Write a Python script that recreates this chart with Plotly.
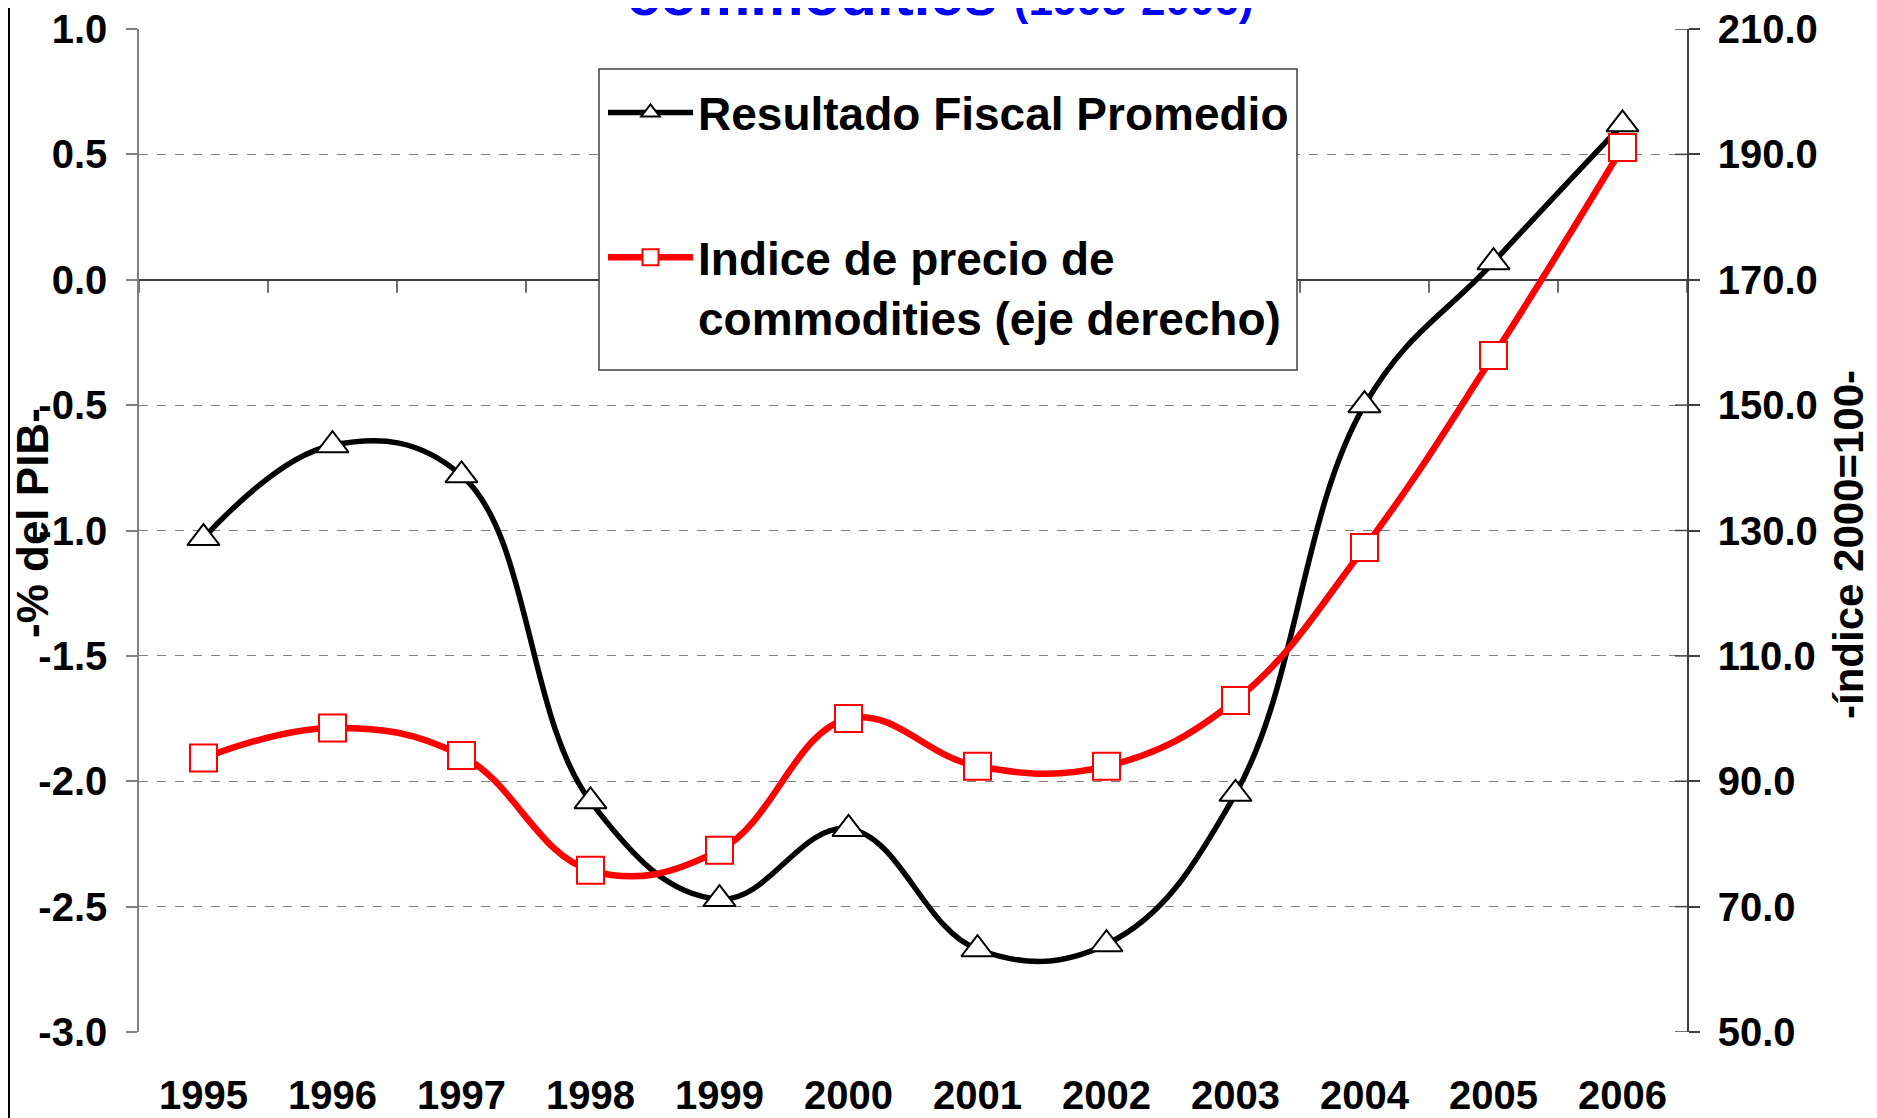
import plotly.graph_objects as go

years = ['1995', '1996', '1997', '1998', '1999', '2000',
         '2001', '2002', '2003', '2004', '2005', '2006']
fiscal = [-1.03, -0.66, -0.78, -2.08, -2.47, -2.19,
          -2.67, -2.65, -2.05, -0.50, 0.07, 0.62]
commod = [93.7, 98.5, 94.1, 75.8, 79.0, 100.0,
          92.4, 92.4, 102.9, 127.3, 157.9, 191.1]

left_ticks = [-3.0, -2.5, -2.0, -1.5, -1.0, -0.5, 0.0, 0.5, 1.0]
right_ticks = [50, 70, 90, 110, 130, 150, 170, 190, 210]

FONT = "Liberation Sans, Arial, sans-serif"

OFF = 8  # default page body margin
W, H = 1877 - OFF, 1118 - OFF
L, R, T, B = 139 - OFF, 1687 - OFF, 29 - OFF, 1032 - OFF
pw, ph = R - L, B - T


def px(xw):
    return (xw - OFF - L) / pw


def py(yw):
    return (B - (yw - OFF)) / ph


fig = go.Figure()
fig.add_trace(go.Scatter(
    x=years, y=fiscal, name="Resultado Fiscal Promedio",
    mode="lines+markers", line=dict(color="black", width=5.5, shape="spline", smoothing=1.15),
    marker=dict(symbol="triangle-up", size=28, color="white", line=dict(color="black", width=2)),
    yaxis="y", legendgroup="a"))
fig.add_trace(go.Scatter(
    x=years, y=commod, name="Indice de precio de<br>commodities (eje derecho)",
    mode="lines+markers", line=dict(color="#FF0000", width=6.5, shape="spline", smoothing=1.15),
    marker=dict(symbol="square", size=27, color="white", line=dict(color="#FF0000", width=2)),
    yaxis="y2", legendgroup="b"))

shapes = []
# boundary ticks on the zero line (category axis crossing at 0)
for i in range(len(years) + 1):
    shapes.append(dict(type="line", xref="x", yref="y", x0=i - 0.5, x1=i - 0.5,
                       ysizemode="pixel", yanchor=0, y0=0, y1=-13,
                       line=dict(color="#404040", width=1.5)))
# inside part of right axis ticks
for v in right_ticks:
    shapes.append(dict(type="line", xref="paper", yref="y2", xsizemode="pixel", xanchor=1,
                       x0=-12, x1=0, y0=v, y1=v, line=dict(color="#404040", width=1.5)))
# legend box
shapes.append(dict(type="rect", xref="paper", yref="paper", layer="above",
                   x0=px(599), x1=px(1297), y0=py(370), y1=py(69),
                   fillcolor="white", line=dict(color="#404040", width=1.5)))
# outer frame
shapes.append(dict(type="rect", xref="paper", yref="paper",
                   x0=px(OFF + 1), x1=px(1872), y0=py(1140), y1=py(-10),
                   line=dict(color="black", width=2)))

tickfont = dict(family=FONT, size=40, color="black", weight="bold")

fig.update_layout(
    width=W, height=H,
    margin=dict(l=L, r=W - R, t=T, b=H - B, autoexpand=False),
    paper_bgcolor="white", plot_bgcolor="white",
    showlegend=True,
    legend=dict(x=px(603), y=py(76), xanchor="left", yanchor="top",
                bgcolor="rgba(0,0,0,0)", borderwidth=0,
                font=dict(family=FONT, size=46, color="black", weight="bold"),
                traceorder="grouped", tracegroupgap=82, valign="top", itemwidth=85),
    xaxis=dict(type="category", range=[-0.5, len(years) - 0.5], showgrid=False,
               showline=False, ticks="", zeroline=False, automargin=False,
               tickfont=tickfont, ticklabelstandoff=36),
    yaxis=dict(range=[-3, 1], tickvals=left_ticks,
               ticktext=[f"{v:.1f}" for v in left_ticks], automargin=False,
               ticklabeloverflow="allow",
               showgrid=True, gridcolor="#808080", griddash="dash", gridwidth=1.2,
               zeroline=True, zerolinecolor="#404040", zerolinewidth=1.5,
               showline=True, linecolor="#808080", linewidth=1.5,
               ticks="outside", ticklen=11, tickcolor="#808080", tickwidth=1.5,
               tickfont=tickfont, ticklabelstandoff=11),
    yaxis2=dict(range=[50, 210], tickvals=right_ticks,
                ticktext=[f"{v:.1f}" for v in right_ticks], automargin=False,
                ticklabeloverflow="allow",
                overlaying="y", side="right", anchor="x",
                showgrid=False, zeroline=False,
                showline=True, linecolor="#404040", linewidth=1.5,
                ticks="outside", ticklen=11, tickcolor="#404040", tickwidth=1.5,
                tickfont=tickfont, ticklabelstandoff=10),
    shapes=shapes,
    annotations=[
        dict(text="<b>commodities</b> <b><span style='font-size:44px'>(1995-2006)</span></b>",
             xref="paper", yref="paper", x=px(940), y=py(30),
             xanchor="center", yanchor="bottom", showarrow=False,
             font=dict(family=FONT, size=60, color="#0000FF")),
        dict(text="-% del PIB-", textangle=-90,
             xref="paper", yref="paper", x=px(32), y=py(523),
             xanchor="center", yanchor="middle", showarrow=False,
             font=dict(family=FONT, size=44, color="black", weight="bold")),
        dict(text="-índice 2000=100-", textangle=-90,
             xref="paper", yref="paper", x=px(1849), y=py(545),
             xanchor="center", yanchor="middle", showarrow=False,
             font=dict(family=FONT, size=42, color="black", weight="bold")),
    ],
)

fig.write_html("out.html")
